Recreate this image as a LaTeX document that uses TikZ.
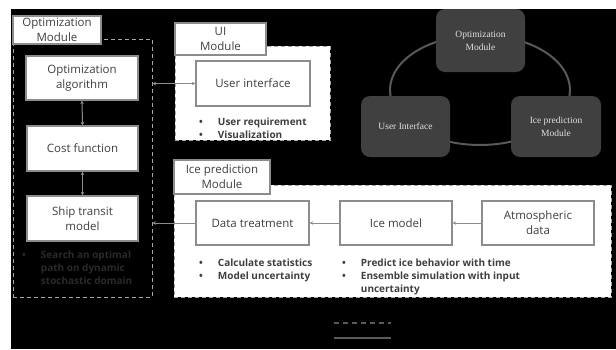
\documentclass[tikz,border=0pt]{standalone}
\usepackage{fontspec}
\setmainfont{Open Sans}
\newfontfamily\ringfont{Liberation Serif}
\usetikzlibrary{arrows.meta,shapes.geometric}
\definecolor{boxline}{HTML}{8C8C8C}
\definecolor{boxtext}{HTML}{3F3F3F}
\definecolor{dashgray}{HTML}{A6A6A6}
\definecolor{ringfill}{HTML}{404040}
\definecolor{ringline}{HTML}{595959}
\definecolor{ringtext}{HTML}{E0E0E0}
\definecolor{faint}{HTML}{2A2A2A}
\begin{document}
\begin{tikzpicture}[x=1pt,y=-1pt,
  stepbox/.style={draw=boxline,line width=1.2pt,fill=white,text=boxtext,
    font=\fontsize{11.5}{15}\selectfont,align=center,inner sep=0pt},
  tagbox/.style={stepbox,line width=1.4pt},
  frame/.style={draw=dashgray,line width=1pt,dash pattern=on 4pt off 3pt,inner sep=0pt},
  conn/.style={draw=boxline,line width=1pt,-{Stealth[length=3.5pt,width=3.5pt]}},
  conn2/.style={conn,{Stealth[length=3.5pt,width=3.5pt]}-{Stealth[length=3.5pt,width=3.5pt]}},
  bullets/.style={anchor=north west,inner sep=0pt,text=boxtext,
    font=\fontsize{10}{13}\selectfont\bfseries,align=left},
  ringbox/.style={fill=ringfill,rounded corners=9pt,text=ringtext,
    font=\ringfont\fontsize{9.5}{13}\selectfont,align=center,inner sep=0pt},
]
\useasboundingbox (0,0) rectangle (616,349);
\fill[white] (0,0) rectangle (616,349);
\fill[black] (11,9) rectangle (616,349);

% ---- Optimization module ----
\node[frame,minimum width=139pt,minimum height=258pt] (optframe) at (82.5,168) {};
\node[tagbox,minimum width=88pt,minimum height=28pt] (opttag) at (57,30) {Optimization\\Module};
\node[stepbox,minimum width=112pt,minimum height=44pt] (alg) at (82,78) {Optimization\\algorithm};
\node[stepbox,minimum width=111pt,minimum height=45pt] (cost) at (82.5,148.5) {Cost function};
\node[stepbox,minimum width=111pt,minimum height=45pt] (ship) at (82.5,218.5) {Ship transit\\model};
\draw[conn2] (alg.south) -- (cost.north);
\draw[conn2] (cost.south) -- (ship.north);
\node[bullets,text=faint] (searchtxt) at (22,249)
  {\begin{tabular}{@{}l@{\hspace{15pt}}l@{}}\textbullet & Search an optimal\\ & path on dynamic\\ & stochastic domain\end{tabular}};

% ---- UI module ----
\node[frame,fill=white,minimum width=155pt,minimum height=94pt] (uiframe) at (252.5,93) {};
\node[tagbox,minimum width=91pt,minimum height=32pt] (uitag) at (220.5,39) {UI\\Module};
\node[stepbox,minimum width=114pt,minimum height=45pt] (ui) at (253,83.5) {User interface};
\node[bullets] (uitxt) at (199,116)
  {\begin{tabular}{@{}l@{\hspace{15pt}}l@{}}\textbullet & User requirement\\ \textbullet & Visualization\end{tabular}};
\draw[conn2] (optframe.east |- ui.west) -- (ui.west);

% ---- Ice prediction module ----
\node[frame,fill=white,minimum width=437pt,minimum height=112pt] (iceframe) at (392.5,241) {};
\node[tagbox,minimum width=96pt,minimum height=34pt] (icetag) at (222,177) {Ice prediction\\Module};
\node[stepbox,minimum width=113pt,minimum height=44pt] (dt) at (252.5,223) {Data treatment};
\node[stepbox,minimum width=112pt,minimum height=44pt] (ice) at (396,223) {Ice model};
\node[stepbox,minimum width=112pt,minimum height=44pt] (atm) at (538,223) {Atmospheric\\data};
\draw[conn] (atm.west) -- (ice.east);
\draw[conn] (ice.west) -- (dt.east);
\draw[conn] (dt.west) -- (optframe.east |- dt.west);
\node[bullets] (dttxt) at (199,257)
  {\begin{tabular}{@{}l@{\hspace{15pt}}l@{}}\textbullet & Calculate statistics\\ \textbullet & Model uncertainty\end{tabular}};
\node[bullets] (icetxt) at (342,257)
  {\begin{tabular}{@{}l@{\hspace{15pt}}l@{}}\textbullet & Predict ice behavior with time\\ \textbullet & Ensemble simulation with input\\ & uncertainty\end{tabular}};

% ---- module cycle ----
\node[draw=ringline,line width=2pt,ellipse,minimum width=180pt,minimum height=110pt,inner sep=0pt] (ring) at (480,90) {};
\node[ringbox,minimum width=89pt,minimum height=63pt] (ropt) at (480.5,40.5) {Optimization\\Module};
\node[ringbox,minimum width=89pt,minimum height=61pt] (rui) at (405.5,126.5) {User Interface};
\node[ringbox,minimum width=90pt,minimum height=61pt] (rice) at (556,126.5) {Ice prediction\\Module};

% ---- legend lines ----
\coordinate (legA) at (334,323);
\coordinate (legB) at (391,323);
\coordinate (legC) at (334,338);
\coordinate (legD) at (391,338);
\draw[draw=ringline,line width=1.5pt,dash pattern=on 5pt off 4pt] (legA) -- (legB);
\draw[draw=ringline,line width=2pt] (legC) -- (legD);
\end{tikzpicture}
\end{document}
